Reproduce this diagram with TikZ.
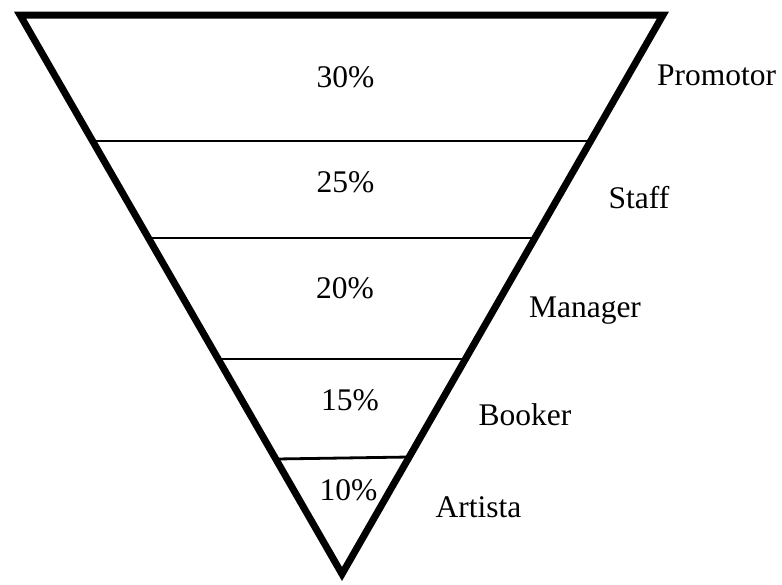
\documentclass[tikz,border=0pt]{standalone}
\usepackage{fontspec}
\setmainfont{Liberation Serif}
\newfontfamily\labelfont{Liberation Serif}
\usepackage{tikz}
\usetikzlibrary{calc}
\tikzstyle{border} = [draw, line width=7pt, line join=miter]
\tikzstyle{band} = [draw, line width=2.8pt]
\tikzstyle{pct} = [anchor=base, inner sep=0pt, font=\labelfont\fontsize{31.5}{36}\selectfont]
\tikzstyle{role} = [anchor=base, inner sep=0pt, font=\labelfont\fontsize{31.5}{36}\selectfont]
\begin{document}
\begin{tikzpicture}[x=1pt, y=-1pt]
	\useasboundingbox (0,0) rectangle (782,584);
	
	\coordinate (tl) at (20,15);
	\coordinate (tr) at (663,15);
	\coordinate (apex) at (342,574);
	
	\coordinate (l1) at ($(tl)!0.2254!(apex)$);
	\coordinate (r1) at ($(tr)!0.2254!(apex)$);
	\coordinate (l2) at ($(tl)!0.3990!(apex)$);
	\coordinate (r2) at ($(tr)!0.3990!(apex)$);
	\coordinate (l3) at ($(tl)!0.6154!(apex)$);
	\coordinate (r3) at ($(tr)!0.6154!(apex)$);
	\coordinate (l4) at ($(tl)!0.7943!(apex)$);
	\coordinate (r4) at ($(tr)!0.7907!(apex)$);
	
	\path [band] (l1) -- (r1);
	\path [band] (l2) -- (r2);
	\path [band] (l3) -- (r3);
	\path [band] (l4) -- (r4);
	
	\path [border] (tl) -- (tr) -- (apex) -- cycle;
	
	\node [pct] (p30) at (345.5,87) {30\%};
	\node [pct] (p25) at (345.5,192) {25\%};
	\node [pct] (p20) at (345,298) {20\%};
	\node [pct] (p15) at (350,410) {15\%};
	\node [pct] (p10) at (348.5,500) {10\%};
	
	\node [role] (promotor) at (716.5,85) {Promotor};
	\node [role] (staff) at (639,208) {Staff};
	\node [role] (manager) at (585,317) {Manager};
	\node [role] (booker) at (525,425) {Booker};
	\node [role] (artista) at (478.5,517) {Artista};
	
\end{tikzpicture}
\end{document}
